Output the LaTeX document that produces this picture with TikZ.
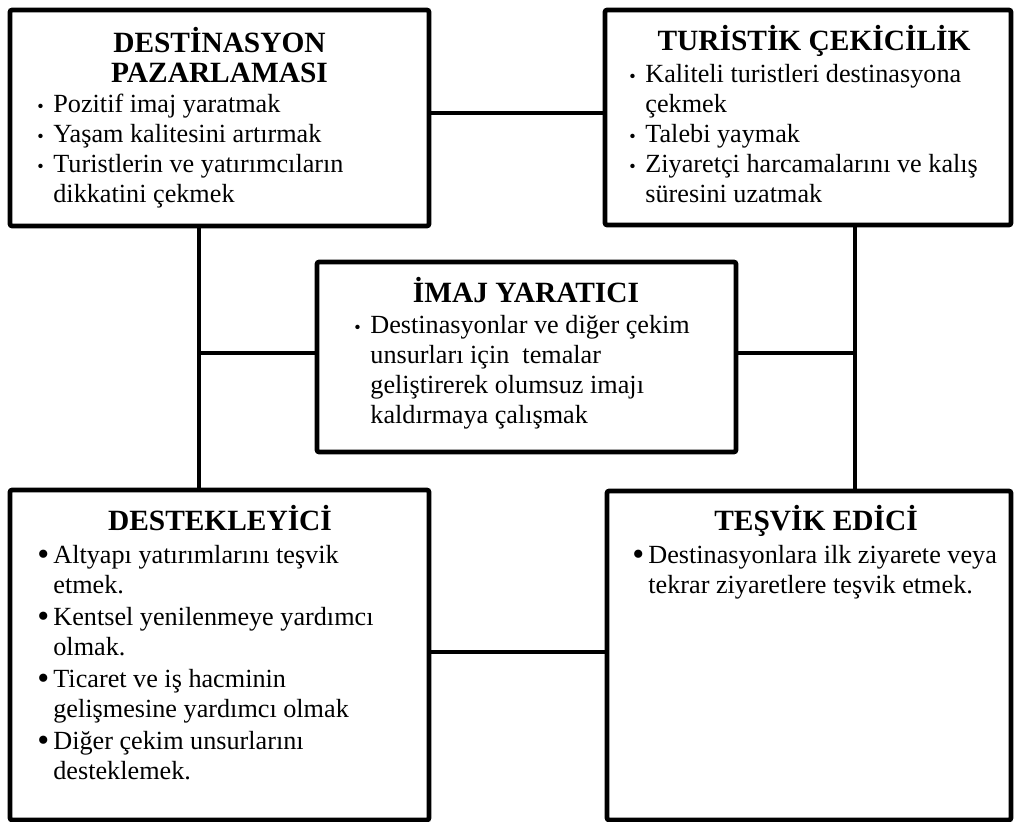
\documentclass[tikz,border=0pt]{standalone}
\usepackage{fontspec}
\setmainfont{Liberation Serif}
\usepackage{graphicx}

\newcommand{\bulind}{8pt}
\newcommand{\smallbul}{\makebox[\bulind][l]{\scalebox{0.7}{\textbullet}}}
\newcommand{\bigbul}{\makebox[\bulind][l]{\raisebox{-1.2pt}{\scalebox{1.3}{\textbullet}}}}
\newcommand{\goon}{\hspace*{\bulind}}
\newcommand{\hstrut}{\rule{0pt}{13.5pt}}
\newcommand{\lstrut}{\rule{0pt}{12pt}}

\tikzset{
    frame/.style={draw, line width=2.3pt, inner sep=0pt, outer sep=0pt, rounded corners=1pt},
    head/.style={font=\fontsize{14.7}{15}\selectfont\bfseries, align=center, inner sep=0pt, anchor=north},
    list/.style={font=\fontsize{13.1}{15}\selectfont, align=left, inner sep=0pt, anchor=north west},
    link/.style={line width=2.3pt}
}

\begin{document}
\begin{tikzpicture}[x=0.5pt, y=-0.5pt]
        \useasboundingbox (0,0) rectangle (1016,822);

        \node[frame, minimum width=209.5pt, minimum height=108pt] (pazar) at (219.5,118) {};
        \node[frame, minimum width=203pt, minimum height=107.5pt] (cekici) at (808,117.5) {};
        \node[frame, minimum width=209.5pt, minimum height=95pt] (imaj) at (526.5,357) {};
        \node[frame, minimum width=209.5pt, minimum height=165pt] (destek) at (219.5,655) {};
        \node[frame, minimum width=202pt, minimum height=164.5pt] (tesvik) at (809,655.5) {};

        \node[head] (pazarHead) at (219.5,25) {\hstrut DESTİNASYON\\PAZARLAMASI};
        \node[list] (pazarList) at (37,88) {\lstrut\smallbul Pozitif imaj yaratmak\\
            \smallbul Yaşam kalitesini artırmak\\
            \smallbul Turistlerin ve yatırımcıların\\
            \goon dikkatini çekmek};

        \node[head] (cekiciHead) at (814,23) {\hstrut TURİSTİK ÇEKİCİLİK};
        \node[list] (cekiciList) at (629,58) {\lstrut\smallbul Kaliteli turistleri destinasyona\\
            \goon çekmek\\
            \smallbul Talebi yaymak\\
            \smallbul Ziyaretçi harcamalarını ve kalış\\
            \goon süresini uzatmak};

        \node[head] (imajHead) at (526,275) {\hstrut İMAJ YARATICI};
        \node[list] (imajList) at (354,309) {\lstrut\smallbul Destinasyonlar ve diğer çekim\\
            \goon unsurları için~ temalar\\
            \goon geliştirerek olumsuz imajı\\
            \goon kaldırmaya çalışmak};

        \node[head] (destekHead) at (220,503) {\hstrut DESTEKLEYİCİ};
        \node[list] (destekList) at (37,539) {\lstrut\bigbul Altyapı yatırımlarını teşvik\\
            \goon etmek.\\[1pt]
            \bigbul Kentsel yenilenmeye yardımcı\\
            \goon olmak.\\[1pt]
            \bigbul Ticaret ve iş hacminin\\
            \goon gelişmesine yardımcı olmak\\[1pt]
            \bigbul Diğer çekim unsurlarını\\
            \goon desteklemek.};

        \node[head] (tesvikHead) at (816,503) {\hstrut TEŞVİK EDİCİ};
        \node[list] (tesvikList) at (632,539) {\lstrut\bigbul Destinasyonlara ilk ziyarete veya\\
            \goon tekrar ziyaretlere teşvik etmek.};

        \coordinate (topJoin) at (517,113);
        \coordinate (leftRail) at (199,353);
        \coordinate (rightRail) at (855,353);
        \coordinate (botJoin) at (518,652);

        \draw[link] (topJoin -| pazar.east) -- (topJoin -| cekici.west);
        \draw[link] (leftRail |- pazar.south) -- (leftRail |- destek.north);
        \draw[link] (leftRail) -- (leftRail -| imaj.west);
        \draw[link] (rightRail |- cekici.south) -- (rightRail |- tesvik.north);
        \draw[link] (rightRail -| imaj.east) -- (rightRail);
        \draw[link] (botJoin -| destek.east) -- (botJoin -| tesvik.west);
\end{tikzpicture}
\end{document}
